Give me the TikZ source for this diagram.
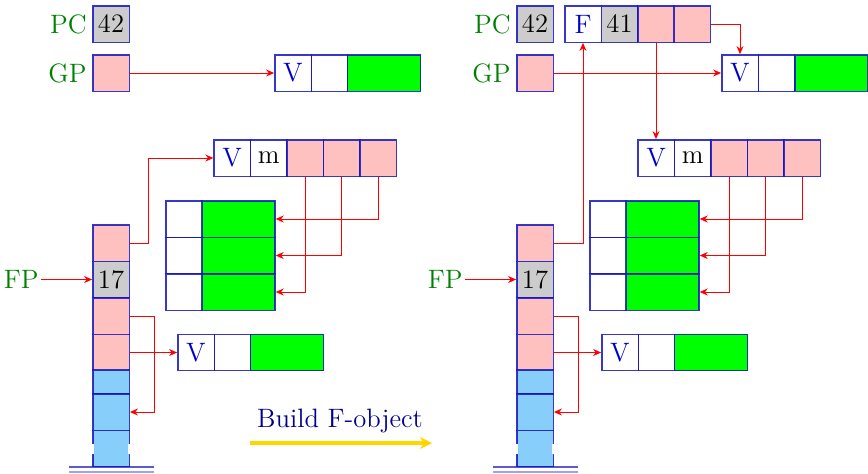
\documentclass[tikz,border=0pt]{standalone}
\usetikzlibrary{arrows.meta}
\usetikzlibrary{positioning}

\definecolor{cellblue}{RGB}{20,20,190}
\definecolor{ptrpink}{RGB}{255,192,192}
\definecolor{stackblue}{RGB}{135,206,250}
\definecolor{valgreen}{RGB}{0,255,0}
\definecolor{labgreen}{RGB}{0,128,0}
\definecolor{numgray}{RGB}{204,204,204}
\definecolor{arrowgold}{RGB}{255,215,0}

\tikzset{
  cell/.style={draw=cellblue, draw opacity=0.85, line width=0.7pt,
               minimum width=18.2pt, minimum height=18.2pt, inner sep=0pt,
               font=\fontsize{13.3}{15}\selectfont},
  ptr/.style={cell, fill=ptrpink},
  num/.style={cell, fill=numgray},
  wide/.style={cell, fill=valgreen, minimum width=36.5pt},
  frame/.style={cell, fill=stackblue},
  tag/.style={cell, text=blue!80!black},
  reg/.style={text=labgreen, font=\fontsize{13.3}{15}\selectfont,
              inner sep=1pt, anchor=east},
  link/.style={draw=red, line width=0.5pt, -{Stealth[length=4pt,width=3.5pt]}},
}

\begin{document}
\begin{tikzpicture}[x=0.5pt, y=-0.5pt]
	\useasboundingbox (0,0) rectangle (868,473);

	% parts that both pictures share
	\foreach \p/\dx in {L/0, R/424} {
	\begin{scope}[xshift={\dx*0.5pt}]
		\node[reg] (\p pcl) at (89,24) {PC};
		\node[num] (\p pc) at (111,24) {42};
		\node[reg] (\p gpl) at (89,73) {GP};
		\node[ptr] (\p gp) at (111,73) {};

		% stack
		\node[ptr] (\p s1) at (111,243) {};
		\node[num] (\p s2) at (111,279.5) {17};
		\node[ptr] (\p s3) at (111,316) {};
		\node[ptr] (\p s4) at (111,352.5) {};
		\node[frame, minimum height=12pt] (\p s5) at (111,382) {};
		\node[frame] (\p s6) at (111,412) {};
		\node[frame] (\p s7) at (111,448.5) {};
		\draw[white, line width=1.2pt] (93,444) -- (93,454) (129,444) -- (129,454);
		\draw[cellblue, draw opacity=0.7, line width=0.6pt] (69,467) -- (154,467);
		\draw[cellblue!40, line width=0.6pt] (69,472) -- (154,472);

		\node[reg] (\p fp) at (41,279.5) {FP};
		\draw[link] (\p fp.east) -- (\p s2.west);

		% closure record
		\node[tag] (\p vV) at (232.25,158) {V};
		\node[cell] (\p vm) at (268.75,158) {m};
		\node[ptr] (\p v1) at (305.25,158) {};
		\node[ptr] (\p v2) at (341.75,158) {};
		\node[ptr] (\p v3) at (378.25,158) {};

		% values
		\foreach \r/\y in {1/219, 2/255.5, 3/292} {
			\node[cell] (\p tk\r) at (184,\y) {};
			\node[wide] (\p tv\r) at (238.5,\y) {};
		}
		\draw[link] (\p v3.south) |- (\p tv1.east);
		\draw[link] (\p v2.south) |- (\p tv2.east);
		\draw[link] (\p v1.south) |- (\p tv3.east);

		\node[tag] (\p bV) at (196,352.5) {V};
		\node[cell] (\p bb) at (232.5,352.5) {};
		\node[wide] (\p bg) at (287,352.5) {};

		\draw[link] (\p s4.east) -- (\p bV.west);
		\draw[link] (\p s3.east) -- ++(25,0) |- (\p s6.east);
	\end{scope}
	}

	% left picture
	\node[tag] (LgV) at (293,73) {V};
	\node[cell] (Lgb) at (329.5,73) {};
	\node[wide] (Lgg) at (384,73) {};
	\draw[link] (Lgp.east) -- (LgV.west);
	\draw[link] (Ls1.east) -- ++(19,0) |- (LvV.west);

	\node[text=blue!55!black, font=\fontsize{13.3}{15}\selectfont] (build) at (340,421) {Build F-object};
	\coordinate (go) at (250,443);
	\coordinate (stop) at (432,443);
	\draw[arrowgold, line width=1.6pt, -{Stealth[length=6pt,width=6pt]}] (go) -- (stop);

	% right picture
	\node[tag] (RF) at (583,24) {F};
	\node[num] (Rn) at (619.5,24) {41};
	\node[ptr] (Re) at (656,24) {};
	\node[ptr] (Rg) at (692,24) {};

	\node[tag] (RgV) at (740,73) {V};
	\node[cell] (Rgb) at (776.5,73) {};
	\node[wide] (Rgg) at (831.5,73) {};

	\draw[link] (Rgp.east) -- (RgV.west);
	\draw[link] (Rg.east) -| (RgV.north);
	\draw[link] (Rs1.east) -| (RF.south);
	\draw[link] (Re.south) -- (Re.south |- RvV.north);
\end{tikzpicture}
\end{document}
